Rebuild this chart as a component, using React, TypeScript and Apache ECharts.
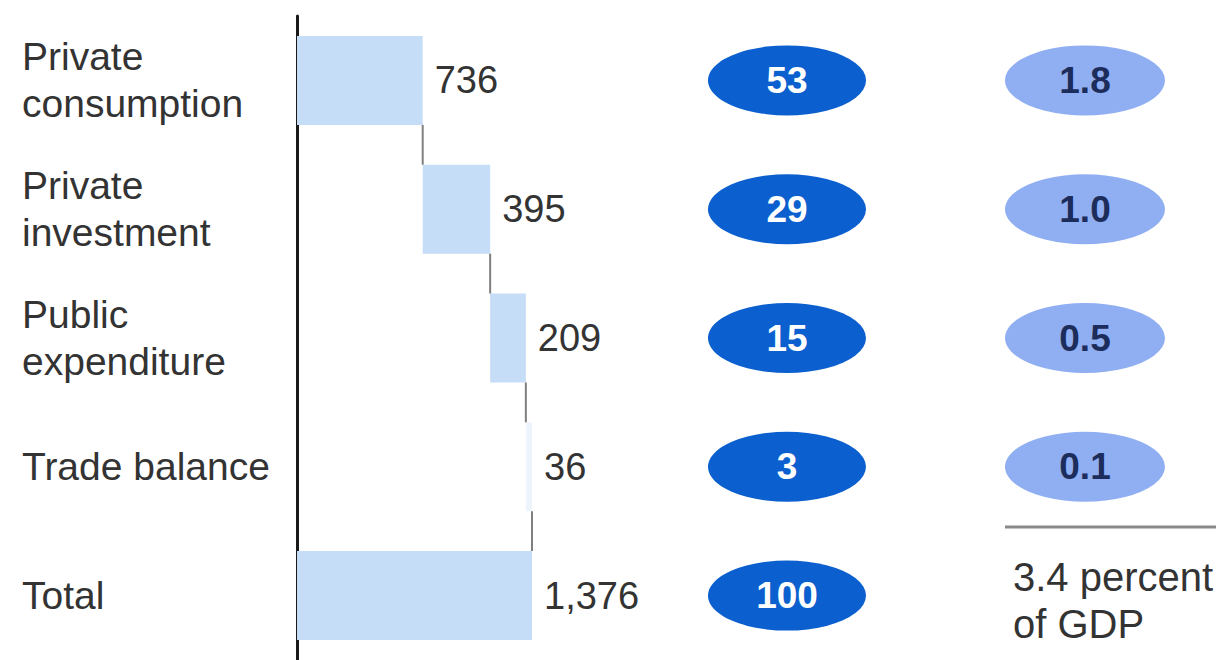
import React, { useEffect, useRef } from "react";
import * as echarts from "echarts";

const categories = [
  "Private\nconsumption",
  "Private\ninvestment",
  "Public\nexpenditure",
  "Trade balance",
  "Total",
];
const values = [736, 395, 209, 36, 1376];
const shares = [53, 29, 15, 3, 100];
const gdpPercent = [1.8, 1.0, 0.5, 0.1];
const gdpTotalText = "3.4 percent\nof GDP";

const BAR_W = 89;
const FONT = "Arial, 'Liberation Sans', sans-serif";

export default function App() {
  const ref = useRef<HTMLDivElement>(null);
  useEffect(() => {
    if (!ref.current) return;
    const chart = echarts.init(ref.current, null, { renderer: "svg" });
    const n = values.length;
    const base: number[] = [];
    const cum: number[] = [];
    let run = 0;
    for (let i = 0; i < n; i++) {
      if (i === n - 1) {
        base.push(0);
        cum.push(values[i]);
      } else {
        base.push(run);
        run += values[i];
        cum.push(run);
      }
    }
    const connectorData = cum.slice(0, n - 1).map((c, i) => [c, i]);

    chart.setOption({
      animation: false,
      textStyle: { fontFamily: FONT },
      grid: [
        { left: 297, right: 694, top: 16, height: 645 },
        { left: 787, right: 141, top: 16, height: 645 },
      ],
      xAxis: [
        { type: "value", gridIndex: 0, min: 0, max: values[n - 1], show: false },
        {
          type: "category",
          gridIndex: 1,
          data: ["share", "gdp"],
          boundaryGap: false,
          show: false,
        },
      ],
      yAxis: [
        {
          type: "category",
          gridIndex: 0,
          data: categories,
          inverse: true,
          offset: 3,
          axisLine: { show: true, lineStyle: { color: "#1a1a1a", width: 3 } },
          axisTick: { show: false },
          splitLine: { show: false },
          axisLabel: {
            align: "left",
            margin: 272,
            fontSize: 39,
            lineHeight: 47,
            color: "#333333",
            fontFamily: FONT,
          },
        },
        {
          type: "category",
          gridIndex: 1,
          data: categories,
          inverse: true,
          show: false,
        },
      ],
      series: [
        {
          type: "bar",
          stack: "w",
          xAxisIndex: 0,
          yAxisIndex: 0,
          barWidth: BAR_W,
          silent: true,
          itemStyle: { color: "rgba(0,0,0,0)" },
          data: base,
        },
        {
          type: "bar",
          stack: "w",
          xAxisIndex: 0,
          yAxisIndex: 0,
          barWidth: BAR_W,
          data: values.map((v, i) => ({
            value: v,
            itemStyle: { color: i === 3 ? "#eef4fc" : "#c6ddf7" },
          })),
          label: {
            show: true,
            position: "right",
            distance: 12,
            fontSize: 38,
            color: "#333333",
            fontFamily: FONT,
            formatter: (p: any) => Number(p.value).toLocaleString("en-US"),
          },
        },
        {
          type: "custom",
          xAxisIndex: 0,
          yAxisIndex: 0,
          encode: { x: 0, y: 1 },
          data: connectorData,
          z: 5,
          renderItem: (params: any, api: any) => {
            const x = api.value(0);
            const i = api.value(1);
            const p1 = api.coord([x, i]);
            const p2 = api.coord([x, i + 1]);
            return {
              type: "line",
              shape: {
                x1: p1[0],
                y1: p1[1] + BAR_W / 2,
                x2: p2[0],
                y2: p2[1] - BAR_W / 2,
              },
              style: { stroke: "#7f7f7f", lineWidth: 2 },
            };
          },
        },
        {
          type: "scatter",
          xAxisIndex: 1,
          yAxisIndex: 1,
          symbol: "circle",
          symbolSize: [158, 70],
          itemStyle: { color: "#0b5fce", opacity: 1 },
          data: shares.map((v, i) => [0, i, v]),
          label: {
            show: true,
            position: "inside",
            formatter: (p: any) => String(p.value[2]),
            color: "#ffffff",
            fontWeight: "bold",
            fontSize: 37,
            fontFamily: FONT,
          },
        },
        {
          type: "scatter",
          xAxisIndex: 1,
          yAxisIndex: 1,
          symbol: "circle",
          symbolSize: [160, 70],
          itemStyle: { color: "#90aff2", opacity: 1 },
          data: gdpPercent.map((v, i) => [1, i, v]),
          label: {
            show: true,
            position: "inside",
            formatter: (p: any) => Number(p.value[2]).toFixed(1),
            color: "#1c2d5c",
            fontWeight: "bold",
            fontSize: 37,
            fontFamily: FONT,
          },
        },
      ],
      graphic: [
        {
          type: "line",
          shape: { x1: 1005, y1: 527, x2: 1216, y2: 527 },
          style: { stroke: "#8a8a8a", lineWidth: 3 },
        },
        {
          type: "text",
          x: 1013,
          y: 553,
          style: {
            text: gdpTotalText,
            fontSize: 40,
            lineHeight: 47,
            fill: "#333333",
            fontFamily: FONT,
            textVerticalAlign: "top",
          },
        },
      ],
    });
    return () => chart.dispose();
  }, []);
  return (
    <div
      ref={ref}
      style={{ position: "absolute", left: 0, top: 0, width: 1226, height: 660 }}
    />
  );
}
